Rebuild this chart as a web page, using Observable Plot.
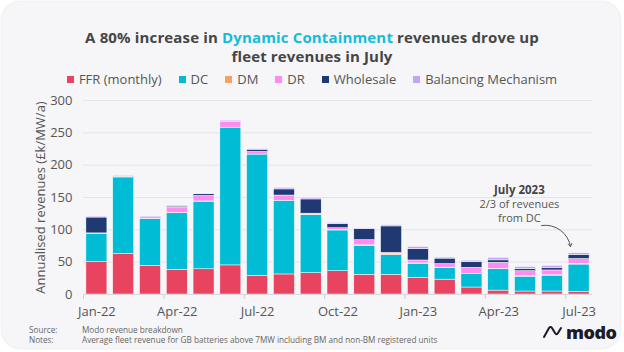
<!DOCTYPE html>
<html><head><meta charset="utf-8">
<script src="https://cdn.jsdelivr.net/npm/d3@7"></script>
<script src="https://cdn.jsdelivr.net/npm/@observablehq/plot@0.6"></script>
<style>
body{margin:0;background:#fff;width:624px;height:352px;overflow:hidden;font-family:"Open Sans",sans-serif;position:relative;}
#card{position:absolute;left:2px;top:2px;width:618px;height:346px;border-radius:18px;background:#f6f6f8;box-shadow:0 0 3px rgba(0,0,0,0.15);}
#title{position:absolute;left:0;top:28px;width:624px;text-align:center;font-weight:700;font-size:15px;letter-spacing:0.15px;line-height:18.5px;color:#454545;}
#title .hl{color:#15bcd6;}
#legend{position:absolute;left:0;top:71px;width:624px;display:flex;justify-content:center;gap:17px;font-size:13px;line-height:16px;color:#555;}
#legend .it{display:flex;align-items:center;gap:5px;}
#legend .sw{width:7px;height:7px;display:inline-block;}
#chart{position:absolute;left:0;top:88px;}
#footer{position:absolute;left:29px;top:325px;font-size:8.2px;line-height:10px;color:#666;}
#footer .row{display:flex;}
#footer .k{width:53px;}
#logo{position:absolute;left:542px;top:322px;display:flex;align-items:center;gap:2px;}
#logo span{font-weight:800;font-size:18px;color:#1b1b2a;letter-spacing:-0.5px;line-height:20px;}
</style></head>
<body>
<div id="card"></div>
<div id="title">A 80% increase in <span class="hl">Dynamic Containment</span> revenues drove up<br>fleet revenues in July</div>
<div id="legend"></div>
<div id="chart"></div>
<div id="footer">
  <div class="row"><div class="k">Source:</div><div>Modo revenue breakdown</div></div>
  <div class="row"><div class="k">Notes:</div><div>Average fleet revenue for GB batteries above 7MW including BM and non-BM registered units</div></div>
</div>
<div id="logo"><svg width="22" height="14" viewBox="0 0 22 14"><path d="M2 12 L7 3 Q8.5 1 10 3 L13 8 Q14.5 10.5 16 8 L19 3" fill="none" stroke="#1b1b2a" stroke-width="2" stroke-linecap="round" stroke-linejoin="round"/></svg><span>modo</span></div>
<script>
const months = ["Jan-22","Feb-22","Mar-22","Apr-22","May-22","Jun-22","Jul-22","Aug-22","Sep-22","Oct-22","Nov-22","Dec-22","Jan-23","Feb-23","Mar-23","Apr-23","May-23","Jun-23","Jul-23"];
const seriesNames = ["FFR (monthly)","DC","DM","DR","Wholesale","Balancing Mechanism"];
const seriesColors = ["#e8435f","#00bcd4","#f7a168","#ff8cf0","#1f3a72","#c3a4f6"];
const ffr       = [50, 62.5, 44, 38, 39, 45, 28.7, 31, 33, 36, 30.5, 30.3, 25.6, 23, 10.8, 6, 4.6, 4.6, 3.8];
const dc        = [44, 118.5, 73, 87.6, 104.6, 213, 187.7, 114, 90, 63, 44.5, 30.5, 22, 18, 20.5, 33, 23, 24.6, 42.5];
const dm        = [0, 0, 0, 0.3, 0.3, 0, 0, 0, 0.5, 0.5, 1, 1.5, 0.5, 0.5, 0, 0.5, 0.5, 0.5, 1];
const dr        = [0.5, 0.5, 0.5, 8, 8.5, 9, 4, 8, 1.5, 3, 8, 2, 4.5, 5.5, 10, 9.5, 8, 7.5, 7.5];
const wholesale = [24.5, 0.5, 1.5, 2, 2.6, 0.5, 3.5, 9.5, 22, 6.5, 17, 41, 17.5, 8.5, 8.8, 3.8, 3, 4, 6.5];
const bm        = [1.5, 1.5, 1.5, 1.5, 1.2, 1.5, 1.2, 2.5, 2.5, 1.5, 1.2, 2, 3.5, 1.6, 2.2, 4, 3.5, 3, 2.5];
const yTicks = [0, 50, 100, 150, 200, 250, 300];
const yLabel = "Annualised revenues (£k/MW/a)";
const annTitle = "July 2023";
const annLine2 = "2/3 of revenues";
const annLine3 = "from DC";

const seriesValues = [ffr, dc, dm, dr, wholesale, bm];
const rows = [];
seriesNames.forEach((s, k) => seriesValues[k].forEach((v, i) => rows.push({i, month: months[i], series: s, value: v})));

const legend = document.getElementById("legend");
seriesNames.forEach((s, k) => {
  const it = document.createElement("div"); it.className = "it";
  const sw = document.createElement("span"); sw.className = "sw"; sw.style.background = seriesColors[k];
  const tx = document.createElement("span"); tx.textContent = s;
  it.append(sw, tx); legend.append(it);
});

const labelTicks = months.map((m, i) => i).filter(i => i % 3 === 0);

const chart = Plot.plot({
  width: 624, height: 240,
  marginTop: 12, marginBottom: 34, marginLeft: 83, marginRight: 32,
  style: {fontFamily: "Open Sans", fontSize: "13px", color: "#555", background: "transparent", overflow: "visible"},
  x: {domain: [0, months.length]},
  y: {domain: [0, 300]},
  color: {domain: seriesNames, range: seriesColors},
  marks: [
    Plot.gridY(yTicks, {stroke: "#e3e3e8", strokeOpacity: 1}),
    Plot.rectY(rows, {x1: "i", x2: d => d.i + 1, y: "value", fill: "series", order: seriesNames,
      insetLeft: 2.9, insetRight: 2.9, stroke: "#ffffff", strokeWidth: 0.5}),
    Plot.ruleY([0], {stroke: "#d6d6db"}),
    Plot.axisY({ticks: yTicks, tickSize: 0, tickPadding: 11, label: yLabel, labelAnchor: "center", labelOffset: 48, labelArrow: "none", fill: "#555"}),
    Plot.axisX({ticks: labelTicks.map(i => i + 0.5), tickFormat: d => months[Math.floor(d)], tickSize: 0, tickPadding: 12, label: null, fill: "#555"}),
    Plot.axisX({ticks: labelTicks, tickFormat: () => "", tickSize: 5, stroke: "#cfcfd4", label: null}),
    Plot.text([annTitle], {x: 16.27, y: 161.5, text: d => d, fontWeight: "bold", fontSize: 11.5, fill: "#444"}),
    Plot.text([annLine2], {x: 16.27, y: 139, text: d => d, fontSize: 11, fill: "#555"}),
    Plot.text([annLine3], {x: 16.27, y: 118, text: d => d, fontSize: 11, fill: "#555"}),
    Plot.arrow([0], {x1: 17.1, y1: 106.7, x2: 18.18, y2: 74, bend: 45, stroke: "#555", strokeWidth: 1, headLength: 5})
  ]
});
document.getElementById("chart").append(chart);
</script>
</body></html>
